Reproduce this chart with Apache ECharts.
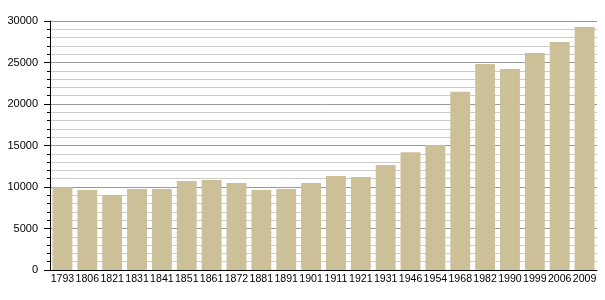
<!DOCTYPE html>
<html><head><meta charset="utf-8">
<script src="https://cdn.jsdelivr.net/npm/echarts@6/dist/echarts.min.js"></script>
<style>html,body{margin:0;padding:0;background:#fff}#c{width:605px;height:300px}</style>
</head><body><div id="c"></div>
<script>
const years = ['1793','1806','1821','1831','1841','1851','1861','1872','1881','1891','1901','1911','1921','1931','1946','1954','1968','1982','1990','1999','2006','2009'];
const population = [10000,9650,9040,9760,9750,10720,10840,10480,9640,9760,10480,11330,11200,12650,14200,15060,21480,24820,24220,26140,27470,29280];
const yTicks = [0,5000,10000,15000,20000,25000,30000];

const chart = echarts.init(document.getElementById('c'), null, {renderer:'canvas'});
chart.setOption({
  animation:false,
  backgroundColor:'#ffffff',
  grid:{left:50,right:8,top:21,bottom:30,containLabel:false},
  xAxis:{
    type:'category', data:years,
    axisLine:{lineStyle:{color:'#000',width:1}},
    axisTick:{show:false},
    axisLabel:{interval:0,color:'#000',fontSize:10.6,fontFamily:'Liberation Sans',margin:4}
  },
  yAxis:{
    type:'value', min:yTicks[0], max:yTicks[yTicks.length-1], interval:5000,
    axisLine:{show:true,lineStyle:{color:'#000',width:1}},
    axisTick:{show:true,length:6,lineStyle:{color:'#000'}},
    minorTick:{show:true,splitNumber:5,length:3,lineStyle:{color:'#000'}},
    splitLine:{show:true,lineStyle:{color:'#999',width:1}},
    minorSplitLine:{show:true,lineStyle:{color:'#ccc',width:1}},
    axisLabel:{color:'#000',fontSize:11,fontFamily:'Liberation Sans',margin:12,formatter:v=>String(v)}
  },
  series:[{
    type:'bar', data:population, barCategoryGap:'20%',
    itemStyle:{color:'#cbc097'}
  }]
});
</script></body></html>
